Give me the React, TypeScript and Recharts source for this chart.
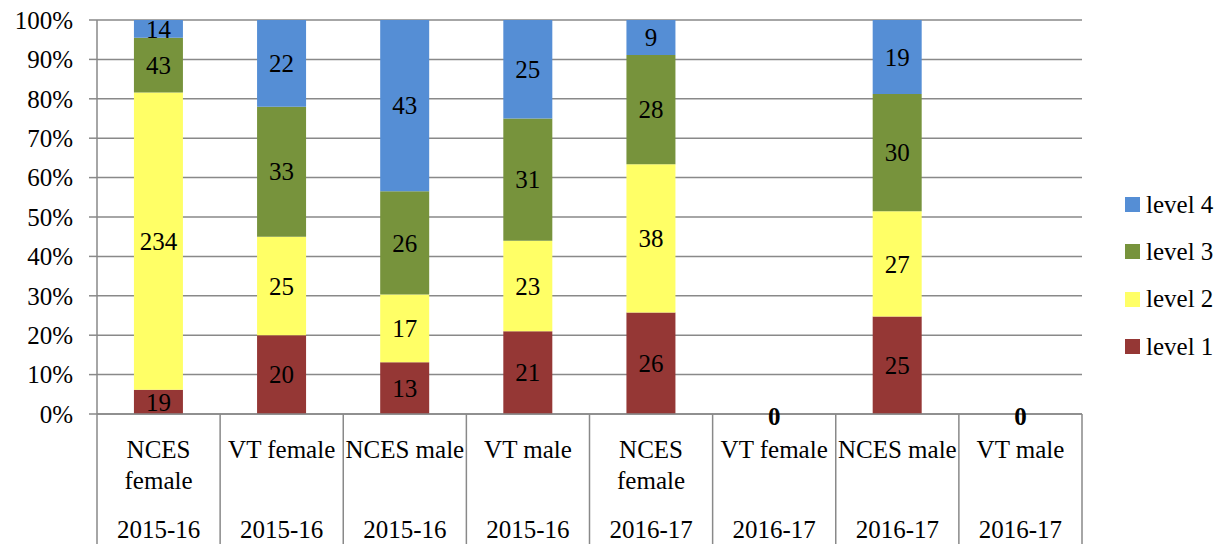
import React from 'react';
import { BarChart, Bar, XAxis, YAxis, CartesianGrid, Legend, LabelList } from 'recharts';

const categories = ['NCES female', 'VT female', 'NCES male', 'VT male', 'NCES female', 'VT female', 'NCES male', 'VT male'];
const years = ['2015-16', '2015-16', '2015-16', '2015-16', '2016-17', '2016-17', '2016-17', '2016-17'];
const level1 = [19, 20, 13, 21, 26, 0, 25, 0];
const level2 = [234, 25, 17, 23, 38, 0, 27, 0];
const level3 = [43, 33, 26, 31, 28, 0, 30, 0];
const level4 = [14, 22, 43, 25, 9, 0, 19, 0];
const yTicks = [0, 0.1, 0.2, 0.3, 0.4, 0.5, 0.6, 0.7, 0.8, 0.9, 1];
const seriesKeys = ['l1', 'l2', 'l3', 'l4'];
const seriesNames = ['level 1', 'level 2', 'level 3', 'level 4'];
const seriesColors = ['#953735', '#FFFF66', '#77933C', '#558ED5'];

const FONT = '"Liberation Serif", "Times New Roman", serif';
const FS = 25;
const GRAY = '#898989';

const data = categories.map((c, i) => ({
  name: c,
  year: years[i],
  l1: level1[i],
  l2: level2[i],
  l3: level3[i],
  l4: level4[i],
}));

let ctx: CanvasRenderingContext2D | null = null;
const measure = (s: string) => {
  if (!ctx && typeof document !== 'undefined') {
    ctx = document.createElement('canvas').getContext('2d');
  }
  if (!ctx) return s.length * FS * 0.5;
  ctx.font = `${FS}px ${FONT}`;
  return ctx.measureText(s).width;
};

const wrap = (s: string, maxW: number) => {
  const words = s.split(' ');
  const lines: string[] = [];
  let cur = '';
  words.forEach((w) => {
    const t = cur ? cur + ' ' + w : w;
    if (cur && measure(t) > maxW) {
      lines.push(cur);
      cur = w;
    } else {
      cur = t;
    }
  });
  if (cur) lines.push(cur);
  return lines;
};

const renderLabel = (props: any) => {
  const vb = props.viewBox || {};
  const x = props.x ?? vb.x;
  const y = props.y ?? vb.y;
  const width = props.width ?? vb.width;
  const height = props.height ?? vb.height;
  if (x == null || y == null) return null;
  return (
    <text
      x={x + width / 2}
      y={y + height / 2}
      dy="0.35em"
      textAnchor="middle"
      fontSize={FS}
      fontFamily={FONT}
      fill="#000"
    >
      {props.value}
    </text>
  );
};

const XTick = (props: any) => {
  const { x, y, payload, width } = props;
  const band = width / categories.length;
  const idx = payload.index;
  const left = x - band / 2;
  const right = x + band / 2;
  const total = level1[idx] + level2[idx] + level3[idx] + level4[idx];
  const lines = wrap(String(payload.value), band - 4);
  return (
    <g>
      <line x1={left} y1={y} x2={left} y2={y + 140} stroke={GRAY} strokeWidth={1.5} />
      {idx === categories.length - 1 && (
        <line x1={right} y1={y} x2={right} y2={y + 140} stroke={GRAY} strokeWidth={1.5} />
      )}
      <text textAnchor="middle" fontSize={FS} fontFamily={FONT} fill="#000">
        {lines.map((ln, i) => (
          <tspan key={i} x={x} y={y + 35 + i * 31} dy="0.35em">
            {ln}
          </tspan>
        ))}
      </text>
      <text x={x} y={y + 115} dy="0.35em" textAnchor="middle" fontSize={FS} fontFamily={FONT} fill="#000">
        {years[idx]}
      </text>
      {total === 0 && (
        <text
          x={x}
          y={y + 2}
          dy="0.35em"
          textAnchor="middle"
          fontSize={FS}
          fontFamily={FONT}
          fontWeight="bold"
          fill="#000"
        >
          {total}
        </text>
      )}
    </g>
  );
};

const LegendContent = (props: any) => {
  const items = [...(props.payload || [])].reverse();
  return (
    <div style={{ fontFamily: FONT, fontSize: FS, color: '#000' }}>
      {items.map((it: any) => (
        <div key={it.value} style={{ display: 'flex', alignItems: 'center', height: 47.3 }}>
          <span style={{ display: 'inline-block', width: 15, height: 15, background: it.color, marginRight: 6 }} />
          <span>{it.value}</span>
        </div>
      ))}
    </div>
  );
};

export default function App() {
  return (
    <div style={{ position: 'absolute', left: 0, top: 0, width: 1231, height: 544, background: '#fff' }}>
      <BarChart
        width={1231}
        height={544}
        data={data}
        stackOffset="expand"
        barCategoryGap="30%"
        margin={{ top: 20, right: 40, bottom: 0, left: 0 }}
        style={{ fontFamily: FONT }}
      >
        <CartesianGrid vertical={false} stroke={GRAY} strokeWidth={1.5} />
        <XAxis
          dataKey="name"
          height={130}
          tick={<XTick />}
          tickLine={false}
          tickSize={0}
          tickMargin={0}
          axisLine={{ stroke: GRAY, strokeWidth: 1.5 }}
          interval={0}
        />
        <YAxis
          domain={[0, 1]}
          ticks={yTicks}
          width={97}
          tickSize={8}
          tickMargin={16}
          tickLine={{ stroke: GRAY, strokeWidth: 1.5 }}
          axisLine={{ stroke: GRAY, strokeWidth: 1.5 }}
          tickFormatter={(v: number) => `${Math.round(v * 100)}%`}
          tick={{ fill: '#000', fontSize: FS, fontFamily: FONT }}
        />
        <Legend
          layout="vertical"
          align="right"
          verticalAlign="top"
          content={<LegendContent />}
          wrapperStyle={{ position: 'absolute', left: 1125, top: 181, width: 109 }}
        />
        {seriesKeys.map((k, i) => (
          <Bar
            key={k}
            dataKey={k}
            name={seriesNames[i]}
            stackId="a"
            fill={seriesColors[i]}
            isAnimationActive={false}
          >
            <LabelList dataKey={k} content={renderLabel} />
          </Bar>
        ))}
      </BarChart>
    </div>
  );
}
